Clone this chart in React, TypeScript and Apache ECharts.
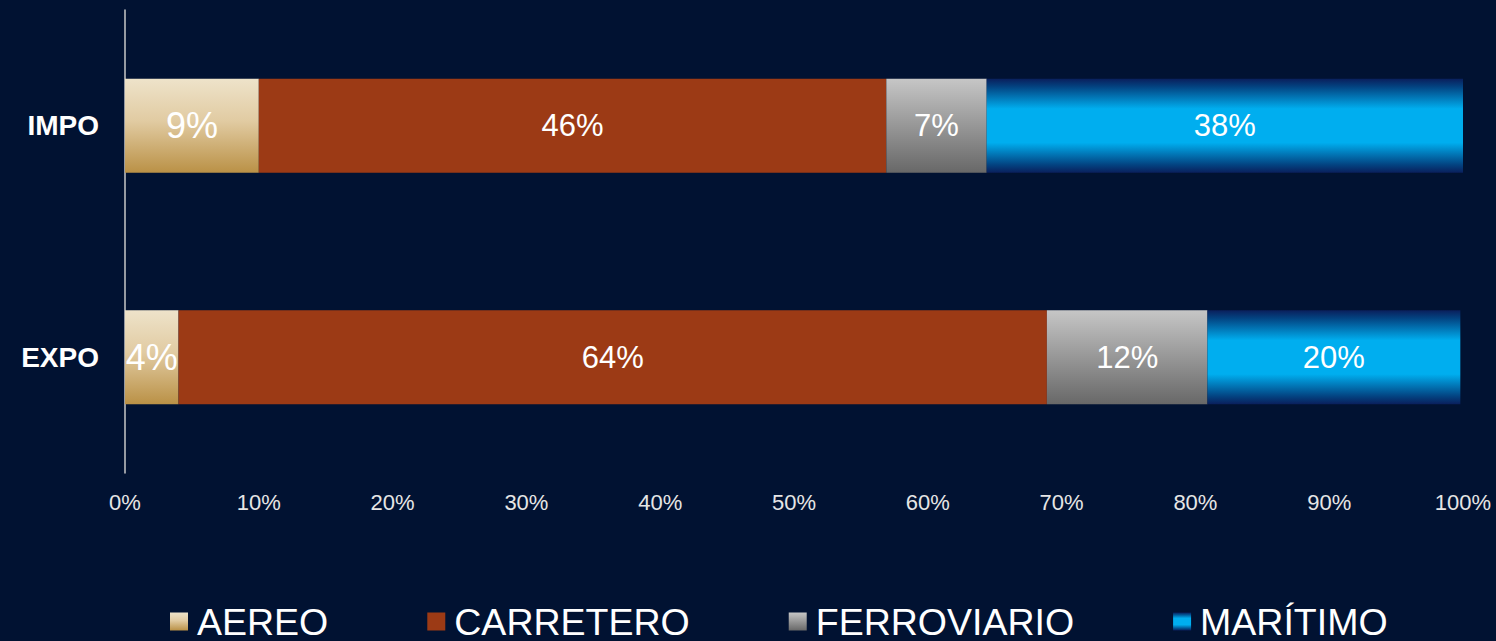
import React, { useEffect, useRef } from "react";
import * as echarts from "echarts";

const categories = ["EXPO", "IMPO"];
const seriesNames = ["AEREO", "CARRETERO", "FERROVIARIO", "MARÍTIMO"];
// bar lengths as drawn (share of 100%), order: EXPO, IMPO
const aereo = [4.0, 10.0];
const carretero = [64.9, 46.9];
const ferroviario = [12.0, 7.5];
const maritimo = [18.9, 35.6];
// labels as printed on the bars
const aereoLabels = ["4%", "9%"];
const carreteroLabels = ["64%", "46%"];
const ferroviarioLabels = ["12%", "7%"];
const maritimoLabels = ["20%", "38%"];
const xTicks = [0, 10, 20, 30, 40, 50, 60, 70, 80, 90, 100];

const vGrad = (stops: [number, string][]) =>
  new echarts.graphic.LinearGradient(0, 0, 0, 1, stops.map(([offset, color]) => ({ offset, color })));

export default function App() {
  const ref = useRef<HTMLDivElement>(null);
  useEffect(() => {
    if (!ref.current) return;
    const chart = echarts.init(ref.current, null, { renderer: "svg" });
    const font = "'Liberation Sans', Arial, sans-serif";
    const colors = [
      vGrad([[0, "#EEE3CA"], [0.45, "#E1CBA2"], [1, "#BA9146"]]),
      "#9C3A15",
      vGrad([[0, "#C6C6C6"], [1, "#686868"]]),
      vGrad([[0, "#0A1F5C"], [0.08, "#03417F"], [0.32, "#00AEEF"], [0.68, "#00AEEF"], [0.92, "#03417F"], [1, "#0A1F5C"]]),
    ];
    const values = [aereo, carretero, ferroviario, maritimo];
    const labels = [aereoLabels, carreteroLabels, ferroviarioLabels, maritimoLabels];
    chart.setOption({
      animation: false,
      backgroundColor: "#011232",
      grid: { left: 125, right: 33, top: 10, bottom: 168, containLabel: false },
      legend: {
        left: 170,
        bottom: 0,
        padding: 0,
        itemWidth: 18,
        itemHeight: 18,
        itemGap: 99,
        icon: "rect",
        textStyle: { color: "#ffffff", fontSize: 37.5, lineHeight: 39, fontFamily: font, padding: [0, 0, 0, 4] },
        data: seriesNames,
      },
      xAxis: {
        type: "value",
        min: 0,
        max: 100,
        interval: 10,
        axisLine: { show: false },
        axisTick: { show: false },
        splitLine: { show: false },
        axisLabel: {
          color: "#E6E6E6",
          fontSize: 22,
          fontFamily: font,
          margin: 18,
          formatter: (v: number) => (xTicks.includes(v) ? `${v}%` : ""),
        },
      },
      yAxis: {
        type: "category",
        data: categories,
        axisLine: { show: true, lineStyle: { color: "#C8C8C8", width: 1.5 } },
        axisTick: { show: false },
        axisLabel: { color: "#ffffff", fontSize: 28, fontWeight: "bold", fontFamily: font, margin: 26 },
      },
      series: seriesNames.map((name, si) => ({
        name,
        type: "bar",
        stack: "total",
        barWidth: 94,
        itemStyle: { color: colors[si] },
        label: {
          show: true,
          position: "inside",
          color: "#ffffff",
          fontSize: si === 0 ? 36 : 31,
          fontFamily: font,
          formatter: (p: any) => labels[si][p.dataIndex],
        },
        data: values[si],
      })),
    });
    return () => chart.dispose();
  }, []);
  return <div ref={ref} style={{ width: 1496, height: 641, position: "absolute", left: 0, top: 0 }} />;
}
